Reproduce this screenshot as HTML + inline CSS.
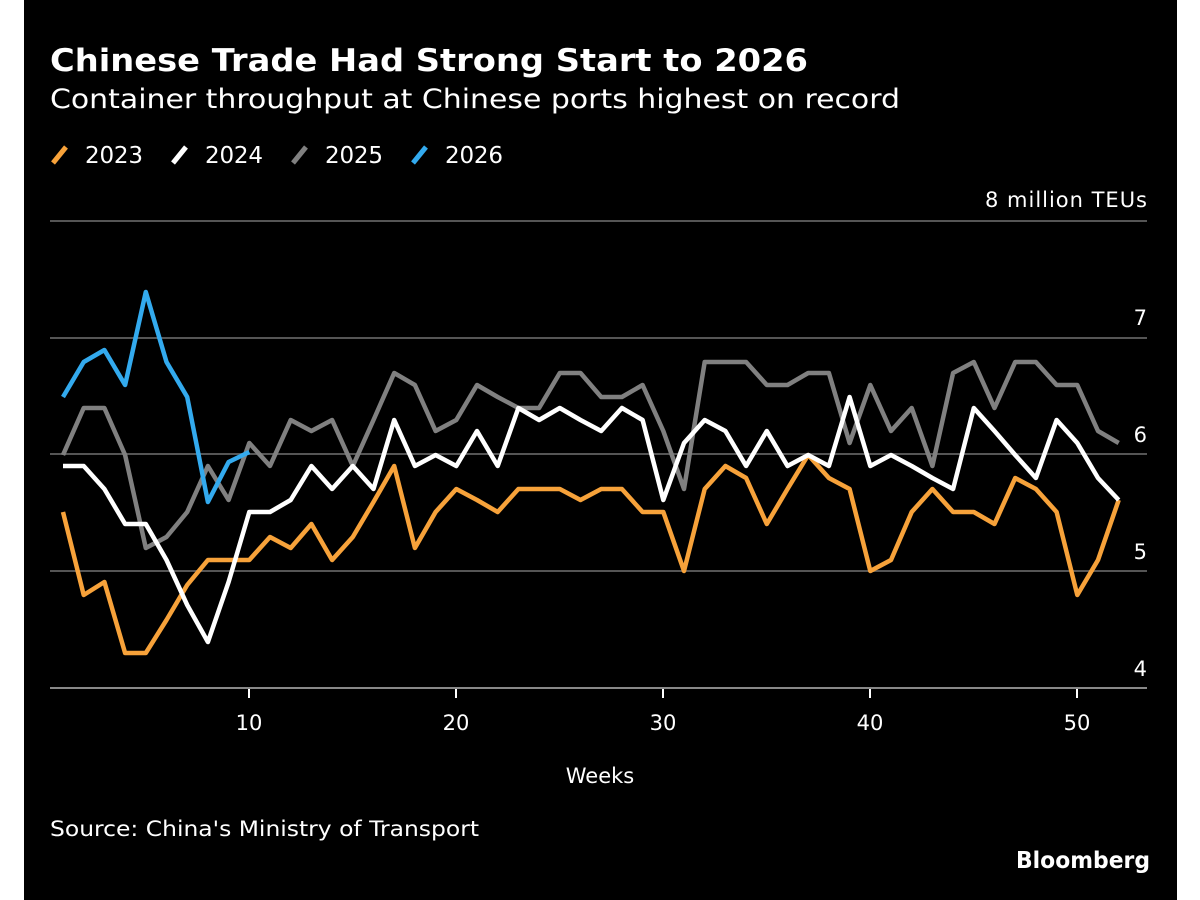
<!DOCTYPE html>
<html><head><meta charset="utf-8"><style>
html,body{margin:0;padding:0;background:#fff;}
svg{display:block;font-family:"DejaVu Sans","Liberation Sans",sans-serif;}
</style></head><body>
<svg width="1200" height="900" viewBox="0 0 1200 900">
<rect x="24" y="0" width="1153" height="900" fill="#000"/>
<text x="50" y="71" fill="#fff" font-size="31" font-weight="bold" textLength="758" lengthAdjust="spacingAndGlyphs">Chinese Trade Had Strong Start to 2026</text>
<text x="50" y="108" fill="#fff" font-size="27" textLength="850" lengthAdjust="spacingAndGlyphs">Container throughput at Chinese ports highest on record</text>
<g font-size="23" fill="#fff">
<line x1="53" y1="163" x2="66" y2="147" stroke="#f7a23a" stroke-width="5"/><text x="85" y="163" textLength="58">2023</text>
<line x1="173" y1="163" x2="186" y2="147" stroke="#fff" stroke-width="5"/><text x="205" y="163" textLength="58">2024</text>
<line x1="293" y1="163" x2="306" y2="147" stroke="#808080" stroke-width="5"/><text x="325" y="163" textLength="58">2025</text>
<line x1="413" y1="163" x2="426" y2="147" stroke="#33aaee" stroke-width="5"/><text x="445" y="163" textLength="58">2026</text>
</g>
<g stroke="#555" stroke-width="2">
<line x1="50" y1="221" x2="1147" y2="221"/><line x1="50" y1="338" x2="1147" y2="338"/><line x1="50" y1="454" x2="1147" y2="454"/><line x1="50" y1="571" x2="1147" y2="571"/>
<line x1="50" y1="688" x2="1147" y2="688" stroke="#888"/>
</g>
<g fill="#fff" font-size="21" text-anchor="end">
<text x="1147" y="207" textLength="162">8 million TEUs</text><text x="1147" y="325">7</text><text x="1147" y="442">6</text><text x="1147" y="559">5</text><text x="1147" y="676">4</text>
</g>
<g stroke="#fff" stroke-width="2"><line x1="249" y1="689" x2="249" y2="698"/><line x1="456" y1="689" x2="456" y2="698"/><line x1="663" y1="689" x2="663" y2="698"/><line x1="870" y1="689" x2="870" y2="698"/><line x1="1077" y1="689" x2="1077" y2="698"/></g>
<g fill="#fff" font-size="21" text-anchor="middle">
<text x="249" y="730">10</text><text x="456" y="730">20</text><text x="663" y="730">30</text><text x="870" y="730">40</text><text x="1077" y="730">50</text>
<text x="600" y="783">Weeks</text>
</g>
<text x="50" y="836" fill="#fff" font-size="21" textLength="429" lengthAdjust="spacingAndGlyphs">Source: China's Ministry of Transport</text>
<text x="1150" y="868" fill="#fff" font-size="23" font-weight="bold" text-anchor="end" textLength="134" lengthAdjust="spacingAndGlyphs">Bloomberg</text>
<g fill="none" stroke-width="4.5" stroke-linejoin="round">
<polyline id="p25" stroke="#808080" points=""/>
<polyline id="p23" stroke="#f7a23a" points=""/>
<polyline id="p24" stroke="#fff" points=""/>
<polyline id="p26" stroke="#33aaee" points=""/>
</g>
</svg>
<script>
var d={p23:[512,595,582,653,653,620,585,560,560,560,537,548,524,560,537,502,466,548,512,489,500,512,489,489,489,500,489,489,512,512,571,489,466,478,524,489,455,478,489,571,560,512,489,512,512,524,478,489,512,595,560,500],
p24:[466,466,489,524,524,560,605,642,582,512,512,500,466,489,466,489,420,466,455,466,431,466,408,420,408,420,431,408,420,500,443,420,431,466,431,466,455,466,397,466,455,466,478,489,408,431,455,478,420,443,478,500],
p25:[455,408,408,455,548,537,512,466,500,443,466,420,431,420,466,420,373,385,431,420,385,397,408,408,373,373,397,397,385,431,489,362,362,362,385,385,373,373,443,385,431,408,466,373,362,408,362,362,385,385,431,443],
p26:[397,362,350,385,292,362,397,502,462,452]};
for(var k in d){document.getElementById(k).setAttribute('points',d[k].map(function(y,i){return (63+i*20.7).toFixed(1)+','+y}).join(' '));}
</script>
</body></html>
